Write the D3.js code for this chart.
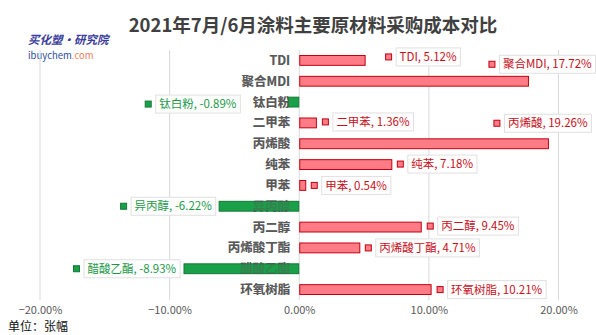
<!DOCTYPE html>
<html>
<head>
<meta charset="utf-8">
<script src="https://cdn.jsdelivr.net/npm/d3@7/dist/d3.min.js"></script>
<style>
  html, body { margin: 0; padding: 0; background: #fff; }
  svg { display: block; font-family: "Noto Sans CJK SC", "Noto Sans", sans-serif; }
</style>
</head>
<body>
<svg id="chart" width="596" height="335"></svg>
<script>
// Month-over-month change in purchase cost of coating raw materials (Jul vs Jun 2021), %
const categories = ["TDI", "聚合MDI", "钛白粉", "二甲苯", "丙烯酸", "纯苯", "甲苯", "异丙醇", "丙二醇", "丙烯酸丁酯", "醋酸乙酯", "环氧树脂"];
const changes = [5.12, 17.72, -0.89, 1.36, 19.26, 7.18, 0.54, -6.22, 9.45, 4.71, -8.93, 10.21];
const tickValues = [-20, -10, 0, 10, 20];

// Callout placement relative to the end of each bar (px): marker centre offset
const calloutOffsets = [
  [23, -3.5], [-37, -17], [-139.5, 2], [8.5, -1], [-52, -20.5], [8, -0.5],
  [8, 0], [-95, 0], [8.5, -1], [8, 0], [-107, 0], [8.5, 0]
];

const svg = d3.select("#chart");

const x = d3.scaleLinear().domain([-20, 20]).range([40, 558.5]);
const y = d3.scaleBand().domain(categories).range([50, 300]).paddingInner(0.48).paddingOuter(0.24);

const posFill = "#ff7c87", posStroke = "#c00010";
const negFill = "#1aa049", negStroke = "#0f7a35";
const posText = "#c8101c", negText = "#1a9a48";

// Title
svg.append("text")
  .attr("x", 313).attr("y", 32)
  .attr("text-anchor", "middle")
  .attr("font-size", 18.5).attr("font-weight", "bold")
  .attr("fill", "#404040")
  .text("2021年7月/6月涂料主要原材料采购成本对比");

// Brand mark
svg.append("text")
  .attr("x", 28).attr("y", 44)
  .attr("font-size", 11.5).attr("font-weight", "bold").attr("font-style", "italic")
  .attr("fill", "#3b3d9c")
  .text("买化塑·研究院");
const site = svg.append("text")
  .attr("x", 28).attr("y", 59)
  .attr("font-size", 9.5);
site.append("tspan").attr("fill", "#2d4c9c").text("ibuychem");
site.append("tspan").attr("fill", "#ef8160").text(".com");

// Vertical gridlines
svg.append("g")
  .selectAll("line")
  .data(tickValues)
  .join("line")
  .attr("x1", d => x(d)).attr("x2", d => x(d))
  .attr("y1", 50).attr("y2", 300)
  .attr("stroke", "#d9d9d9").attr("stroke-width", 1);

// Value axis tick labels
const axis = d3.axisBottom(x)
  .tickValues(tickValues)
  .tickSize(0)
  .tickFormat(d => d3.format(".2f")(d) + "%");
const axisG = svg.append("g").attr("transform", "translate(0,301)").call(axis);
axisG.select(".domain").remove();
axisG.selectAll("text")
  .attr("font-size", 11).attr("fill", "#595959")
  .attr("font-family", "'Noto Sans CJK SC', sans-serif")
  .attr("dy", "0.9em");

// Category labels, right-aligned just left of zero
const catLabel = (sel) => sel
  .attr("x", x(0) - 9)
  .attr("y", d => y(d) + y.bandwidth() / 2)
  .attr("dy", "0.36em")
  .attr("text-anchor", "end")
  .attr("font-size", 12.5).attr("font-weight", "bold")
  .attr("fill", "#595959")
  .text(d => d);

svg.append("g").selectAll("text").data(categories).join("text").call(catLabel);

// Bars
svg.append("g")
  .selectAll("rect")
  .data(categories.map((c, i) => ({ c, v: changes[i] })))
  .join("rect")
  .attr("x", d => x(Math.min(0, d.v)) + 0.5)
  .attr("y", d => y(d.c) + 0.5)
  .attr("width", d => Math.abs(x(d.v) - x(0)) - 1)
  .attr("height", y.bandwidth() - 1)
  .attr("fill", d => d.v >= 0 ? posFill : negFill)
  .attr("stroke", d => d.v >= 0 ? posStroke : negStroke)
  .attr("stroke-width", 1);

// Category labels faintly showing through the negative bars
svg.append("g").selectAll("text").data(categories).join("text").call(catLabel)
  .attr("opacity", 0.45);

// Callouts: marker square + boxed label "name, value%"
const callouts = svg.append("g");
categories.forEach((c, i) => {
  const v = changes[i];
  const [dx, dy] = calloutOffsets[i];
  const mx = x(v) + dx;
  const my = y(c) + y.bandwidth() / 2 + dy;
  const g = callouts.append("g");
  const label = g.append("text")
    .attr("x", mx + 11).attr("y", my)
    .attr("dy", "0.36em")
    .attr("font-size", 11.5)
    .attr("fill", v >= 0 ? posText : negText)
    .text(`${c}, ${v.toFixed(2)}%`);
  const bb = label.node().getBBox();
  g.insert("rect", "text")
    .attr("x", mx + 7.5).attr("y", my - 9)
    .attr("width", bb.width + 7).attr("height", 18)
    .attr("fill", "#fff").attr("stroke", "#e0e0e0").attr("stroke-width", 1);
  g.append("rect")
    .attr("x", mx - 3).attr("y", my - 3)
    .attr("width", 6).attr("height", 6)
    .attr("fill", v >= 0 ? posFill : negFill)
    .attr("stroke", v >= 0 ? posStroke : negStroke)
    .attr("stroke-width", 1);
});

// Unit note
svg.append("text")
  .attr("x", 8).attr("y", 331)
  .attr("font-size", 12).attr("fill", "#111")
  .text("单位：张幅");
</script>
</body>
</html>
